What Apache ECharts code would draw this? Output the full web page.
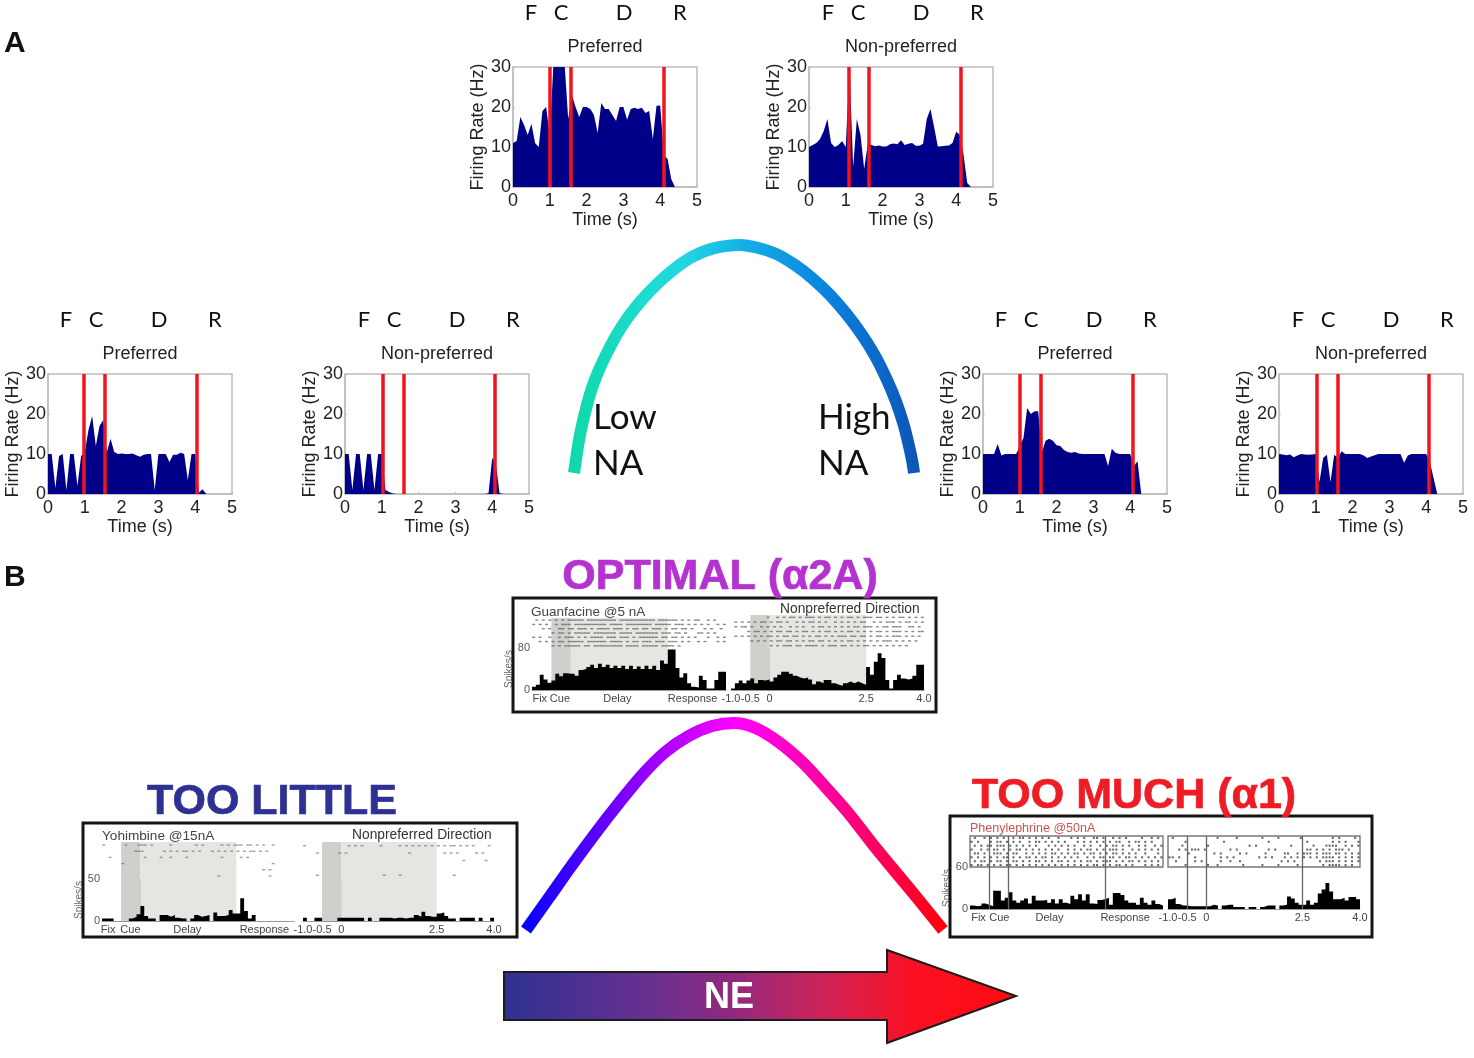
<!DOCTYPE html>
<html>
<head>
<meta charset="utf-8">
<script src="https://cdn.jsdelivr.net/npm/echarts@6/dist/echarts.min.js"></script>
<style>html,body{margin:0;padding:0;background:#fff}#chart{width:1474px;height:1058px;filter:blur(0.45px)}</style>
</head>
<body>
<div id="chart"></div>
<script>
// ---------- Panel A: firing rate (Hz) sampled every 0.1 s from t = 0 ----------
const rateTimes = [0,0.1,0.2,0.3,0.4,0.5,0.6,0.7,0.8,0.9,1,1.1,1.2,1.3,1.4,1.5,1.6,1.7,1.8,1.9,2,2.1,2.2,2.3,2.4,2.5,2.6,2.7,2.8,2.9,3,3.1,3.2,3.3,3.4,3.5,3.6,3.7,3.8,3.9,4,4.1,4.2,4.3,4.4];
const midPreferred    = [11,11.5,17.5,15.5,13,15.8,11,10,19,20,13,31,31,31,31,17,23,20,17.5,20,20,19.5,18,13.5,21,19.5,19.5,18,16.5,20,20,16.8,19.5,19.8,19.5,19.8,18.5,19,12,20.3,20.4,8,7,2,0];
const midNonPreferred = [10,10.5,11,12,14,17,11,10,10.5,11.5,10,30,5,17,13,4.5,11,10.5,10.2,10.4,10.1,10.1,10.7,10.9,10.7,11.7,10.5,10.8,11,10.3,10.3,10.8,17,19.5,15,10.1,10.2,10.3,10.4,11,13.8,13,8,1,0];
const lowPreferred    = [10,10,1.5,9.5,10,1,10,10,2,9.5,10.5,16,19.5,12,17,18.5,10.5,13.8,10.5,10,10.1,10,10,10.1,9.7,9.3,9.8,10,10,1,10,10,10,8,9.8,9.8,10.3,10,3.5,10,10,0.3,1.2,0,0];
const lowNonPreferred = [10,10,1,10,10,1,10,10,1,10,10,1,0.5,0.1,0,0,0,0,0,0,0,0,0,0,0,0,0,0,0,0,0,0,0,0,0,0,0,0,0,0.2,9,7.5,0.2,0,0];
const highPreferred   = [10,10,10,10,12.5,9.6,10,10,10,10,12,14,21.5,20,20.7,20.7,10.5,13.3,13.8,13.3,12.2,12,11,10.5,10.3,10.5,10.1,10,10,10,10,10,10,10,7,11.3,10.3,10,10,10,10,7,8.2,0,0];
const highNonPreferred= [10,9.9,9.7,9.9,9.2,9.6,10,9.9,9.8,9.9,10,3,9,9.8,3,9.8,9,10.7,10,10,10,10,10,9.6,9,9.4,9.7,10,10,10,10,10,10,10,7.8,9.6,10,10,10,10,10,8,4,0,0];
const midPrefEvents  = [1,1.57,4.1];
const midNonEvents   = [1.08,1.63,4.13];
const lowPrefEvents  = [0.97,1.53,4.03];
const lowNonEvents   = [1.02,1.6,4.08];
const highPrefEvents = [1,1.57,4.07];
const highNonEvents  = [1.03,1.6,4.07];
const epochLetters = ['F','C','D','R'];

// ---------- inverted-U curves (level vs performance, percent of extent) ----------
const naCurveLevel = [0,0.5,1.2,2.2,3.5,5,7,9.5,12.5,16,20,24.5,29.5,35,41,48.8,54,59.6,65,70,75,80,84.5,88.5,92,94.8,97,98.5,99.5,100];
const naCurvePerf  = [0,5,12,20,28,36,44,52,60.5,68.5,76,83,89.5,95,98.5,100,98.8,96,91.2,85.5,78.5,70,61,51.5,41,31,21,12,5,0];
const neCurveLevel = [0,5.4,11,16.6,22.2,27.8,33.4,39,44.6,49.8,55,60.6,66.2,71.8,77.4,83,88.6,94.2,100];
const neCurvePerf  = [0,15.3,31.3,46.6,61.1,74.8,86,93.7,98.5,100,97.6,90.8,81.2,69.1,56.3,41.8,28.1,14.5,0];

// ---------- Panel B: spike histograms, 50 bins of 0.1 s from -1.0 s ----------
const histBins = [-1,-0.9,-0.8,-0.7,-0.6,-0.5,-0.4,-0.3,-0.2,-0.1,0,0.1,0.2,0.3,0.4,0.5,0.6,0.7,0.8,0.9,1,1.1,1.2,1.3,1.4,1.5,1.6,1.7,1.8,1.9,2,2.1,2.2,2.3,2.4,2.5,2.6,2.7,2.8,2.9,3,3.1,3.2,3.3,3.4,3.5,3.6,3.7,3.8,3.9,4];
const guanPref = [6,10,29,20,14,18,31,26,32,31,31,27,38,40,44,48,42,50,44,48,42,46,42,46,40,46,40,45,40,46,40,46,38,56,50,77,77,42,24,32,13,6,5,27,19,3,3,19,35,35];
const guanNon  = [3,13,18,13,18,22,13,19,18,20,16,24,29,35,35,31,27,24,22,24,20,11,16,13,19,19,13,10,8,13,16,13,16,13,10,44,29,54,70,61,19,3,19,29,22,20,22,27,48,48];
const yohiPref = [3,3,3,0,0,0,0,3,5,8,18,6,3,3,0,7,7,5,7,4,3,3,0,3,7,5,6,7,0,10,6,6,7,13,9,9,27,12,3,7,0,0,0,0,0,0,0,0,0,0];
const yohiNon  = [4,0,0,4,4,0,0,0,0,4,4,4,4,4,4,4,0,4,0,0,4,4,4,3,4,4,3,4,4,7,5,11,6,5,5,9,10,6,3,3,0,4,4,4,4,0,4,0,0,4];
const pheoPref = [5,4,5,8,6,4,26,26,12,16,24,12,9,12,15,8,19,12,12,13,9,14,8,14,9,7,19,14,21,12,21,8,7,13,14,16,6,23,23,20,12,9,9,6,16,9,6,12,7,5];
const pheoNon  = [14,16,7,5,5,4,4,4,4,4,4,6,5,0,5,6,6,3,3,3,0,3,3,0,3,5,5,5,0,5,6,18,15,9,6,6,12,6,9,22,28,37,25,14,14,16,12,17,17,14];

// raster rows: one character per 1/12 s from -1.0 s, '#' marks spikes
const guanPrefRaster = [
  '.#.#.#.#.#.#####.#########.###########.######.#.#.##..#.#...#',
  '#.#.#..#.###.##########.####.########.#####.###.#.#.#.#..#.#.',
  '...#.#..##.##.###.#.####.###.#.##.##.###.#.##.##.#...#.#..#.#',
  '......#.##.#.#####.#######.####.#######.###.##.#...##.#.#...#',
  '#.#..#..#.###.#.#.####.###.###.#.######.##.##.#.#.#...#..#.#.',
  '..#.#.#.##.#####.######.####.#.##.###.###.###.#.#..#.#...#.##',
  '......#.#.#####.##.#########.####.#####.####.#...............'
];
const guanNonRaster = [
  '...........#..#.#.##.#.###.#.##.#.#.##.#.###.##.#.#.##.#.#.#',
  '.#.#.#.#.##.#.##.#..#.#.##.#.#..#.#.#.#.##..#.#.###.#.##.#.#.',
  '.#.##.#..#.#.#.#..#.#.#..#.##.#.#.#.#.##.###.#.##.###..##.#.#',
  '.....#.##.#.#.##.##.#.##.#.#.##.#.#.##.#.#.#.##.#.###.#.#.###',
  '.#.#.#.#.#.##.#.##.##.#.#.##.#.#.###.##.##.#.##.#.###.#.#.#.#',
  '......#.#.#.#.##.##.#.#.##.##.#.#.#.##.#.#.#.#.###.#.#.#.#..#',
  '............#.#.###.##.####.#.###.##.#.#.##.#.#.#.#.#.#.....'
];
const yohiPrefRaster = [
  '#......#...###.#.....#.......#.#.....#.#.###.##.#.#..#.....',
  '..........###......#.#.#.##.#.#...#.#.#.#.#.#.##.#.#.......',
  '..#..........#....#..#....#..........#.....#.#..............',
  '......#..............................................#......',
  '..................................................#.#.......',
  '....................................#...............#.......'
];
const yohiNonRaster = [
  '#.............#.#.#.....#.....#.#.#.#.#.#.#.#.##.#.#.#....#...#',
  '....#......#.#...................#..........#.#.#.....#.#.......',
  '..................................................#......#.....',
  '...............................................................',
  '....#....................#....#................#...............'
];
const pheoPrefRaster = [
  '.#..#.#.#.#..#.##.#.#.#.#..#...#.#.#..##.#..#.#.#....#..#.#.',
  '#.#...#.##.#.#.#..#.##.#.#.#.#...#.#.#.#.#.#.##..#.##.#.#...',
  '.#.#.##.###.#.#.#.#.#...#.#.#.#.#..#.#..#.#.##.#.#..#.#..#.#',
  '#..#.#.##.#.#.##.#.#.#.#.#.#..#.#.#.##.#.#.###.#..#.#.#.#.#.',
  '.##.#..###.#.##..#.#.#.#.##.#.#.##.#.##.#.#.##.#.#.#..#...#.',
  '#.#.#.#.#.##.#.#.##.#.##.#.#.#.#.#..#.#.##.##.#.##.#.#.#.#.#',
  '.#.##.#.##.#.##.#.#.##.#.#.##.#.#.#.##.#.###.#.#.##.#.#.#.#.',
  '#.##.#.#.#.##.#.#.#.#.#.#.#.#.#.#.#.#.##.#.#.##.#.#...#.#.#.'
];
const pheoNonRaster = [
  '.#.............#.....#.......#....#......#.........#.#....#.#',
  '.....#...........#.............#...........#.......#.#.#...#.',
  '....#.......#............#.#..........#......#...####..#.#.#.',
  '...#.#.###.#.......#.#.........#.#.........##.#.#.#.###.#...#',
  '......#.......#.#.....#.#.....#.....##..#.###.#.###.##.#.#.#.',
  '##.#....#.......#.#.#.......#.#.#...#.#.#.#.#.#.####.#.#.#.#',
  '..#.....#.#.....#..#..#............#.#.#.......#.###.#.#.#.#.',
  '.....#......#..#.......#.....#....#.....#.......#.####.#.#...'
];

const SANS = "'Liberation Sans', Arial, sans-serif";
const HUM = "Lato, 'Open Sans', sans-serif";
const grid = [], xAxis = [], yAxis = [], series = [], graphic = [];

function text(str, x, y, font, fill, align, extra, strokeW) {
  const style = { text:str, font, fill, align:align||'center', verticalAlign:'middle' };
  if (strokeW) { style.stroke = fill; style.lineWidth = strokeW; }
  graphic.push(Object.assign({ type:'text', x, y, z:20, silent:true, style }, extra||{}));
}

// ---- Panel A small plots ----
function ratePanel(title, left, top, values, events) {
  const w = 184, h = 120, i = grid.length;
  grid.push({ left, top, width:w, height:h, show:true, borderColor:'#bdbdbd', borderWidth:1.5, backgroundColor:'#fff' });
  xAxis.push({ gridIndex:i, type:'value', min:0, max:5, interval:1, name:'Time (s)', nameLocation:'middle', nameGap:23,
    nameTextStyle:{ fontFamily:SANS, fontSize:18, color:'#222' },
    axisLine:{ lineStyle:{ color:'#bdbdbd', width:1.5 } }, axisTick:{ inside:true, length:2, lineStyle:{ color:'#bdbdbd' } },
    axisLabel:{ fontFamily:SANS, fontSize:18, color:'#222', margin:5, hideOverlap:false }, splitLine:{ show:false } });
  yAxis.push({ gridIndex:i, type:'value', min:0, max:30, interval:10, name:'Firing Rate (Hz)', nameLocation:'middle', nameGap:26,
    nameTextStyle:{ fontFamily:SANS, fontSize:18, color:'#222' },
    axisLine:{ show:true, lineStyle:{ color:'#bdbdbd', width:1.5 } }, axisTick:{ show:true, inside:true, length:2, lineStyle:{ color:'#bdbdbd' } },
    axisLabel:{ fontFamily:SANS, fontSize:18, color:'#222', margin:2, hideOverlap:false }, splitLine:{ show:false } });
  series.push({ type:'line', xAxisIndex:i, yAxisIndex:i, data:rateTimes.map((t,k)=>[t,values[k]]), showSymbol:false, silent:true,
    lineStyle:{ width:0 }, areaStyle:{ color:'#000088', opacity:1 }, clip:true,
    markLine:{ silent:true, symbol:'none', label:{ show:false }, animation:false,
      lineStyle:{ color:'#f2141c', width:3.5, type:'solid' }, data:events.map(v=>({ xAxis:v })) } });
  text(title, left+w/2, top-20, '18px '+SANS, '#222');
  const offs = [18,48,111,167];
  epochLetters.forEach((c,k)=>text(c, left+offs[k]+ (title==='Preferred'?0:1), top-54, '22px '+HUM, '#111'));
}
ratePanel('Preferred',     513, 67,  midPreferred,    midPrefEvents);
ratePanel('Non-preferred', 809, 67,  midNonPreferred, midNonEvents);
ratePanel('Preferred',     48,  374, lowPreferred,    lowPrefEvents);
ratePanel('Non-preferred', 345, 374, lowNonPreferred, lowNonEvents);
ratePanel('Preferred',     983, 374, highPreferred,   highPrefEvents);
ratePanel('Non-preferred', 1279,374, highNonPreferred,highNonEvents);

// ---- Inverted-U curves ----
function curve(left, top, w, h, xs, ys, lw, stops) {
  const i = grid.length;
  grid.push({ left, top, width:w, height:h });
  xAxis.push({ gridIndex:i, type:'value', min:0, max:100, show:false });
  yAxis.push({ gridIndex:i, type:'value', min:0, max:100, show:false });
  series.push({ type:'line', xAxisIndex:i, yAxisIndex:i, data:xs.map((x,k)=>[x,ys[k]]), smooth:0.3, showSymbol:false, clip:false, silent:true, z:3,
    lineStyle:{ width:lw, cap:'butt', join:'round', color:{ type:'linear', x:0, y:0, x2:1, y2:0, colorStops:stops } } });
}
curve(574, 245, 340, 228, naCurveLevel, naCurvePerf, 12, [
  {offset:0,color:'#10d8a8'},{offset:0.22,color:'#1cdcd0'},{offset:0.33,color:'#22d6e2'},{offset:0.5,color:'#14b0e4'},
  {offset:0.72,color:'#0a86e0'},{offset:1,color:'#0c54b6'}]);
curve(526, 723, 417, 207, neCurveLevel, neCurvePerf, 12, [
  {offset:0,color:'#0000ff'},{offset:0.25,color:'#8000ff'},{offset:0.5,color:'#ff00ff'},
  {offset:0.75,color:'#ff0090'},{offset:1,color:'#ff0000'}]);

// ---- Panel B histograms with rasters ----
function unitPanel(o) {
  const rows = o.raster.length, r = grid.length, h = r+1;
  const marks = o.shade ? {
    silent:true, animation:false,
    data:[[{ xAxis:-0.5, itemStyle:{ color:'#cfcfcb' } },{ xAxis:0 }],[{ xAxis:0, itemStyle:{ color:'#e5e5e1' } },{ xAxis:2.5 }]]
  } : undefined;
  const lines = o.shade ? undefined : {
    silent:true, symbol:'none', animation:false, label:{ show:false },
    lineStyle:{ color:'#666', width:1.3, type:'solid' }, data:[-0.5,0,2.5].map(v=>({ xAxis:v }))
  };
  // raster grid
  grid.push({ left:o.x0, width:o.x1-o.x0, top:o.rTop, height:o.rBottom-o.rTop,
    show:!o.shade, borderColor:'#777', borderWidth:1.4 });
  xAxis.push({ gridIndex:r, type:'value', min:-1, max:4, show:false });
  yAxis.push({ gridIndex:r, type:'value', min:-0.5, max:rows-0.5, inverse:true, show:false });
  const pts = [];
  o.raster.forEach((s,row)=>{ for (let c=0;c<s.length;c++) if (s[c]==='#') pts.push([-1+(c+0.5)/12,row]); });
  series.push({ type:'scatter', xAxisIndex:r, yAxisIndex:r, data:pts, silent:true, symbol:'rect',
    symbolSize:o.shade?[3,1.4]:[2,2], itemStyle:{ color:o.shade?'#555':'#222', opacity:o.dotAlpha||0.7 }, z:4,
    markArea:marks, markLine:lines });
  // histogram grid
  grid.push({ left:o.x0, width:o.x1-o.x0, top:o.rBottom, height:o.hBottom-o.rBottom });
  const labelText = o.labels;
  xAxis.push({ gridIndex:h, type:'value', min:-1, max:4,
    axisLine:{ onZero:false, lineStyle:{ color:'#999', width:1 } }, axisTick:{ show:false }, splitLine:{ show:false },
    axisLabel:{ customValues:labelText.map(l=>l[0]), formatter:v=>{ const f=labelText.find(l=>l[0]===v); return f?f[1]:''; },
      fontFamily:SANS, fontSize:11, color:'#444', margin:o.labelGap||3, hideOverlap:false } });
  yAxis.push({ gridIndex:h, type:'value', min:0, max:o.yMax,
    name:o.yName?'Spikes/s':'', nameLocation:'middle', nameGap:-6, nameTextStyle:{ fontFamily:SANS, fontSize:10, color:'#666' },
    axisLine:{ show:true, lineStyle:{ color:'#999', width:1 } },
    axisTick:{ show:true, inside:true, length:4, customValues:[o.yMax], lineStyle:{ color:'#999' } }, splitLine:{ show:false },
    axisLabel:{ show:!!o.yName, customValues:[0,o.yMax], fontFamily:SANS, fontSize:11, color:'#555', margin:2, hideOverlap:false } });
  const vals = o.values;
  series.push({ type:'line', xAxisIndex:h, yAxisIndex:h, step:'end', showSymbol:false, silent:true, z:4, clip:true,
    data:histBins.map((t,k)=>[t, k<vals.length?vals[k]:vals[vals.length-1]]),
    lineStyle:{ width:0 }, areaStyle:{ color:'#000', opacity:1 }, markArea:marks, markLine:lines });
}
function box(x0,y0,x1,y1){
  graphic.push({ type:'rect', z:1, silent:true, shape:{ x:x0, y:y0, width:x1-x0, height:y1-y0 },
    style:{ fill:'none', stroke:'#151515', lineWidth:3 } });
}
const leftWords = (a,b,c,d)=>[[a,'Fix'],[b,'Cue'],[c,'Delay'],[d,'Response']];
const timeWords = [[-1,'-1.0'],[-0.5,'-0.5'],[0,'0'],[2.5,'2.5'],[4,'4.0']];

box(513,598,936,712);
unitPanel({ x0:532, x1:726, rTop:618, rBottom:648, hBottom:690, yMax:80, yName:true, shade:true, raster:guanPrefRaster, values:guanPref, labels:leftWords(-0.8,-0.28,1.2,3.14) });
unitPanel({ x0:731, x1:924, rTop:615, rBottom:648, hBottom:690, yMax:80, yName:false, shade:true, raster:guanNonRaster, values:guanNon, labels:timeWords });
text('Guanfacine @5 nA', 531, 612, '13.5px '+SANS, '#444', 'left');
text('Nonpreferred Direction', 780, 609, '13.8px '+SANS, '#333', 'left');

box(83,823,517,937);
unitPanel({ x0:102, x1:294, rTop:842, rBottom:879, hBottom:921, yMax:50, yName:true, shade:true, dotAlpha:0.55, raster:yohiPrefRaster, values:yohiPref, labels:leftWords(-0.84,-0.26,1.22,3.23) });
unitPanel({ x0:303, x1:494, rTop:842, rBottom:879, hBottom:921, yMax:50, yName:false, shade:true, dotAlpha:0.55, raster:yohiNonRaster, values:yohiNon, labels:timeWords });
text('Yohimbine @15nA', 102, 836, '13.6px '+SANS, '#444', 'left');
text('Nonpreferred Direction', 352, 835, '13.8px '+SANS, '#333', 'left');

box(950,816,1372,937);
unitPanel({ x0:970, x1:1163, rTop:836, rBottom:867, hBottom:909, yMax:60, yName:true, shade:false, raster:pheoPrefRaster, values:pheoPref, labels:leftWords(-0.78,-0.24,1.06,3.02) });
unitPanel({ x0:1168, x1:1360, rTop:836, rBottom:867, hBottom:909, yMax:60, yName:false, shade:false, raster:pheoNonRaster, values:pheoNon, labels:timeWords });
text('Phenylephrine @50nA', 970, 829, '12.5px '+SANS, '#c8564f', 'left');

// ---- Labels and arrow ----
text('A', 4, 44, 'bold 30px '+SANS, '#111', 'left');
text('B', 4, 578, 'bold 30px '+SANS, '#111', 'left');
text('Low', 593, 418, '35px '+HUM, '#111', 'left');
text('NA',  593, 464, '35px '+HUM, '#111', 'left');
text('High', 818, 418, '35px '+HUM, '#111', 'left');
text('NA',   818, 464, '35px '+HUM, '#111', 'left');
text('OPTIMAL (α2A)', 720, 577, 'bold 43px '+SANS, '#b432cf', 'center', null, 0.7);
text('TOO LITTLE', 272, 802, 'bold 43px '+SANS, '#2e3192', 'center', null, 0.7);
text('TOO MUCH (α1)', 1134, 796, 'bold 43px '+SANS, '#ee1c25', 'center', null, 0.7);
graphic.push({ type:'polygon', z:5, silent:true,
  shape:{ points:[[504,972],[887,972],[887,950],[1016,996],[887,1043],[887,1020],[504,1020]] },
  style:{ stroke:'#1c1c1c', lineWidth:2, fill:{ type:'linear', x:0, y:0, x2:1, y2:0, colorStops:[
    {offset:0,color:'#2e3192'},{offset:0.3,color:'#6c2f90'},{offset:0.45,color:'#92297e'},{offset:0.62,color:'#cc2358'},{offset:0.8,color:'#fb1022'},{offset:1,color:'#ff0a10'}] } } });
text('NE', 729, 998, 'bold 36px '+SANS, '#fff', 'center', { z:21 });

const chart = echarts.init(document.getElementById('chart'), null, { width:1474, height:1058 });
chart.setOption({ animation:false, backgroundColor:'#fff', tooltip:{ show:false }, grid, xAxis, yAxis, series, graphic });
</script>
</body>
</html>
